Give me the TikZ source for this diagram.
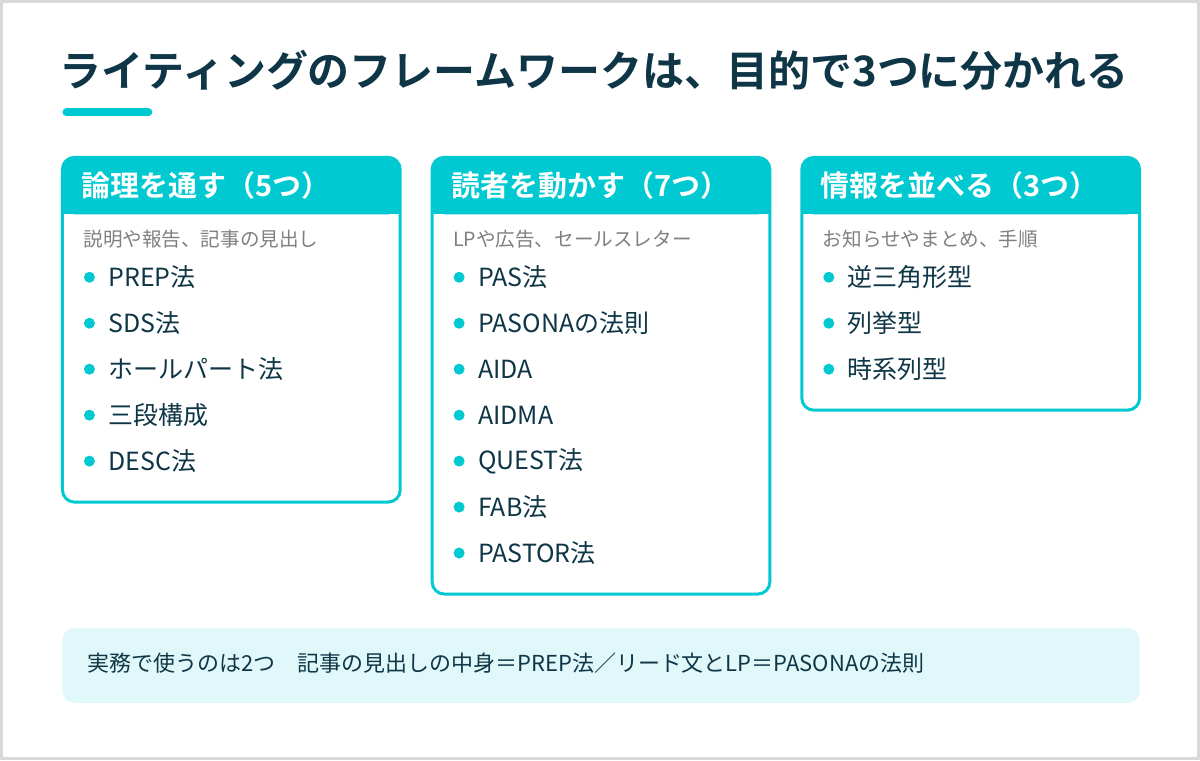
\documentclass[tikz,border=0pt]{standalone}
\usepackage{fontspec}
\setmainfont{Noto Sans CJK JP}[BoldFont={Noto Sans CJK JP Bold}]
\usetikzlibrary{positioning}
\definecolor{teal}{HTML}{00C9D1}
\definecolor{ink}{HTML}{0F3646}
\definecolor{soft}{HTML}{E1F8FA}
\definecolor{frame}{HTML}{D9D9D9}
\tikzset{
  card/.style={draw=teal,line width=1.5pt,rounded corners=6pt},
  head/.style={font=\fontsize{14.5}{16}\selectfont\bfseries,text=white,anchor=west},
  sub/.style={font=\fontsize{9.8}{11}\selectfont,text=gray,anchor=west},
  item/.style={font=\fontsize{12.5}{14}\selectfont,text=ink,anchor=west},
  dot/.style={circle,fill=teal,inner sep=0pt,minimum size=5.5pt}
}
\newcommand{\framecard}[6]{%
  % #1 left x, #2 bottom y, #3 name, #4 heading, #5 subtitle, #6 items
  \fill[teal,rounded corners=6pt] (#1,157) rectangle (#1+338,214);
  \fill[teal] (#1,190) rectangle (#1+338,214);
  \draw[card] (#1,157) rectangle (#1+338,#2);
  \node[head] (#3h) at (#1+12,185) {#4};
  \node[sub] (#3s) at (#1+14,239) {#5};
  \foreach \t [count=\i] in {#6}{
    \node[dot] (#3d\i) at (#1+27,277+46*\i-46) {};
    \node[item,right=3pt of #3d\i] (#3t\i) {\t};
  }
}
\begin{document}
\begin{tikzpicture}[x=0.5pt,y=-0.5pt]
  \fill[white] (0,0) rectangle (1200,760);
  \draw[frame,line width=1.5pt] (1,1) rectangle (1199,759);
  \node[anchor=west,font=\fontsize{21}{23}\selectfont\bfseries,text=ink] (title) at (52,70)
    {ライティングのフレームワークは、目的で3つに分かれる};
  \draw[teal,line width=4pt,line cap=round] (66,112) -- (148,112);
  \framecard{62}{502}{a}{論理を通す（5つ）}{説明や報告、記事の見出し}{PREP法,SDS法,ホールパート法,三段構成,DESC法}
  \framecard{432}{594}{b}{読者を動かす（7つ）}{LPや広告、セールスレター}{PAS法,PASONAの法則,AIDA,AIDMA,QUEST法,FAB法,PASTOR法}
  \framecard{802}{410}{c}{情報を並べる（3つ）}{お知らせやまとめ、手順}{逆三角形型,列挙型,時系列型}
  \fill[soft,rounded corners=6pt] (62,628) rectangle (1140,703);
  \node[anchor=west,font=\fontsize{11}{13}\selectfont,text=ink] (note) at (80,663)
    {実務で使うのは2つ\quad 記事の見出しの中身＝PREP法／リード文とLP＝PASONAの法則};
\end{tikzpicture}
\end{document}
